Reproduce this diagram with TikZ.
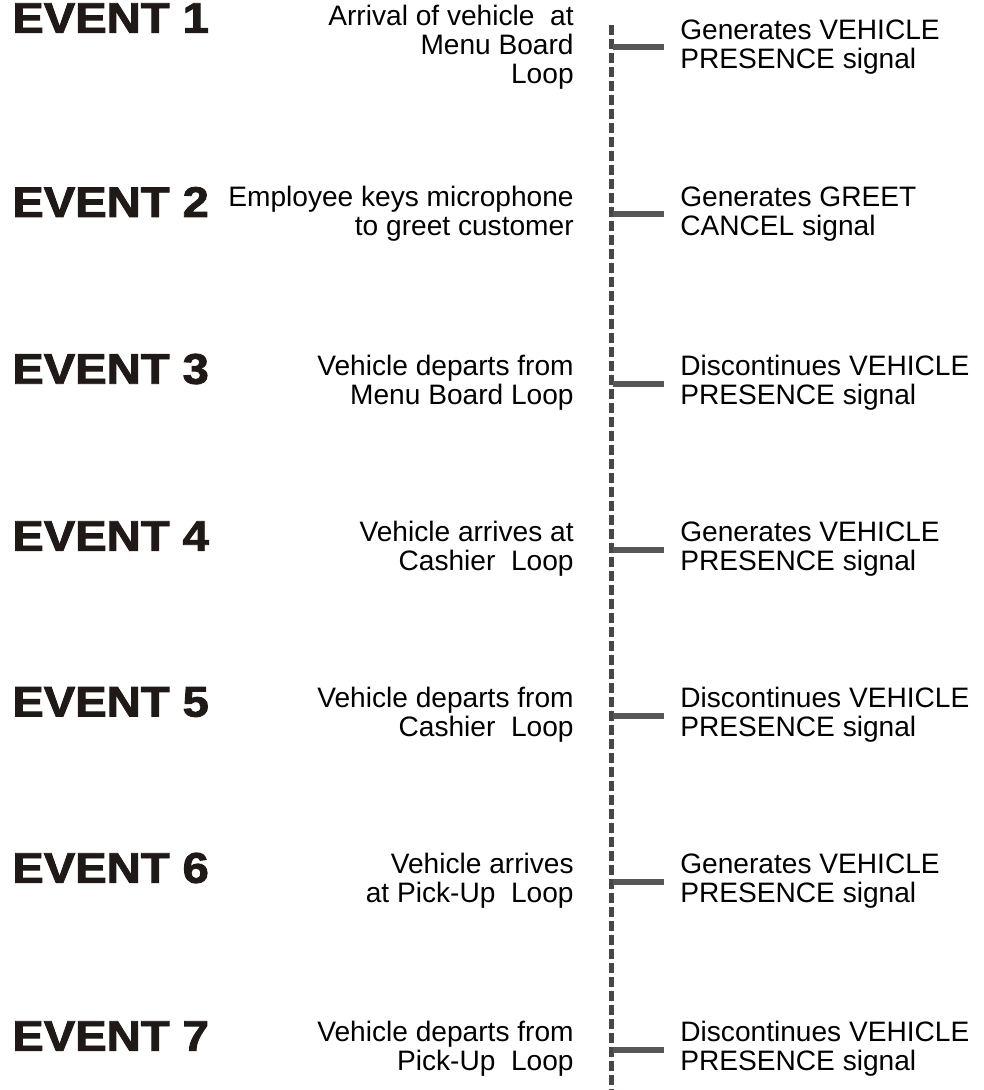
\documentclass[tikz,border=0pt]{standalone}
\usepackage{fontspec}
\setmainfont{Liberation Sans}
\newfontfamily\eventfont[BoldFeatures={FakeBold=2}]{Liberation Sans}
\usepackage{graphicx}
\usepackage{tikz}
\usetikzlibrary{positioning}
\definecolor{spinegrey}{HTML}{4A4646}
\definecolor{tickgrey}{HTML}{575757}
\definecolor{eventblack}{HTML}{1F1A17}

\newcommand{\eventlabel}[1]{\scalebox{1.1}[1]{#1}}

\tikzset{
  event/.style={anchor=west,inner sep=0pt,text=eventblack,font=\eventfont\bfseries\fontsize{24.4}{24.4}\selectfont},
  cause/.style={anchor=east,inner sep=0pt,align=right,font=\fontsize{16}{16.5}\selectfont},
  effect/.style={anchor=west,inner sep=0pt,align=left,font=\fontsize{16}{16.5}\selectfont},
  spine/.style={spinegrey,line width=0.1cm,dash pattern=on 0.2cm off 0.08cm},
  tick/.style={tickgrey,line width=0.11cm,shorten >=0.32cm}
}

\begin{document}
\begin{tikzpicture}[x=0.02cm,y=-0.02cm]
\useasboundingbox (0,0) rectangle (984,1090);

\coordinate (top) at (611,25);
\coordinate (bottom) at (611,1090);
\draw[spine] (top) -- (bottom);

% event 1
\node[event] (ev1) at (12,18) {\eventlabel{EVENT 1}};
\node[cause] (cause1) at (574,47) {Arrival of vehicle\ \ at \\ Menu Board \\ Loop};
\node[effect] (effect1) at (680,47) {Generates VEHICLE \\ PRESENCE signal};
\coordinate (t1) at (613,47);
\draw[tick] (t1) -- (effect1.west);

% event 2
\node[event] (ev2) at (12,202) {\eventlabel{EVENT 2}};
\node[cause] (cause2) at (574,214) {Employee keys microphone \\ to greet customer};
\node[effect] (effect2) at (680,214) {Generates GREET \\ CANCEL signal};
\coordinate (t2) at (613,214);
\draw[tick] (t2) -- (effect2.west);

% event 3
\node[event] (ev3) at (12,369) {\eventlabel{EVENT 3}};
\node[cause] (cause3) at (574,383) {Vehicle departs from \\ Menu Board Loop};
\node[effect] (effect3) at (680,383) {Discontinues VEHICLE \\ PRESENCE signal};
\coordinate (t3) at (613,384);
\draw[tick] (t3) -- (effect3.west |- t3);

% event 4
\node[event] (ev4) at (12,536) {\eventlabel{EVENT 4}};
\node[cause] (cause4) at (574,549) {Vehicle arrives at \\ Cashier\ \ Loop};
\node[effect] (effect4) at (680,549) {Generates VEHICLE \\ PRESENCE signal};
\coordinate (t4) at (613,550);
\draw[tick] (t4) -- (effect4.west |- t4);

% event 5
\node[event] (ev5) at (12,702) {\eventlabel{EVENT 5}};
\node[cause] (cause5) at (574,715) {Vehicle departs from \\ Cashier\ \ Loop};
\node[effect] (effect5) at (680,715) {Discontinues VEHICLE \\ PRESENCE signal};
\coordinate (t5) at (613,716);
\draw[tick] (t5) -- (effect5.west |- t5);

% event 6
\node[event] (ev6) at (12,868) {\eventlabel{EVENT 6}};
\node[cause] (cause6) at (574,881) {Vehicle arrives \\ at Pick-Up\ \ Loop};
\node[effect] (effect6) at (680,881) {Generates VEHICLE \\ PRESENCE signal};
\coordinate (t6) at (613,882);
\draw[tick] (t6) -- (effect6.west |- t6);

% event 7
\node[event] (ev7) at (12,1036) {\eventlabel{EVENT 7}};
\node[cause] (cause7) at (574,1049) {Vehicle departs from \\ Pick-Up\ \ Loop};
\node[effect] (effect7) at (680,1049) {Discontinues VEHICLE \\ PRESENCE signal};
\coordinate (t7) at (613,1050);
\draw[tick] (t7) -- (effect7.west |- t7);

\end{tikzpicture}
\end{document}
